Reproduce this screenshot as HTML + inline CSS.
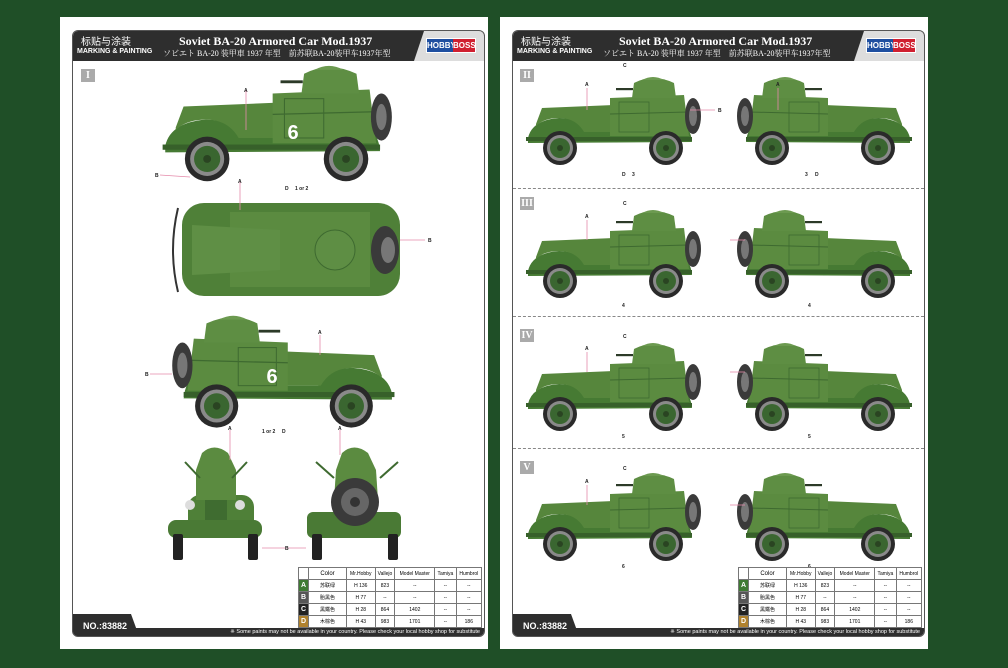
<!DOCTYPE html>
<html><head><meta charset="utf-8"><style>
*{margin:0;padding:0;box-sizing:border-box}
body{width:1008px;height:668px;background:#1f4f27;position:relative;overflow:hidden;font-family:"Liberation Sans","Noto Sans CJK SC",sans-serif}
.paper{position:absolute;top:17px;width:428px;height:632px;background:#fff}
.frame{position:absolute;left:12px;top:13px;width:413px;height:607px;border:1px solid #555;border-radius:6px;overflow:hidden}
.hdr{position:absolute;left:0;top:0;width:100%;height:30px;background:#2e2e2e}
.hdr .lg{position:absolute;right:0;top:0;width:70px;height:30px;background:#ddd;clip-path:polygon(10px 0,100% 0,100% 100%,0 100%)}
.logo{position:absolute;right:8px;top:7px;width:50px;height:15px;font:bold 8px "Liberation Sans",sans-serif;color:#fff;display:flex;border:1px solid #fff}
.logo span{display:block;line-height:13px;text-align:center}
.t1{position:absolute;left:106px;top:3px;font:bold 12px "Liberation Serif",serif;color:#fff;white-space:nowrap}
.t2{position:absolute;left:90px;top:17px;font:8px "Liberation Serif","Noto Serif CJK SC",serif;color:#fff;white-space:nowrap}
.c1{position:absolute;left:8px;top:2px;font:10px "Noto Sans CJK SC",sans-serif;color:#fff}
.c2{position:absolute;left:4px;top:17px;font:bold 7px "Liberation Sans",sans-serif;color:#fff;white-space:nowrap}
.bot{position:absolute;left:0;bottom:0;width:100%;height:8px;background:#2e2e2e}
.no{position:absolute;left:0;bottom:0;width:66px;height:22px;background:#2e2e2e;clip-path:polygon(0 0,58px 0,66px 100%,0 100%);color:#fff;font:bold 9px "Liberation Sans",sans-serif;padding:7px 0 0 10px}
.foot{position:absolute;right:4px;bottom:0;font:5.5px "Liberation Sans",sans-serif;color:#fff;white-space:nowrap;line-height:8px}
.rn{position:absolute;width:14px;height:13px;background:#aaa;color:#fff;font:bold 10px "Liberation Serif",serif;text-align:center;line-height:13px}
.dash{position:absolute;left:0;width:100%;border-top:1px dashed #888}
table{position:absolute;border-collapse:collapse;font:5px "Liberation Sans",sans-serif;background:#fff}
td{border:1px solid #777;text-align:center;height:12px;padding:0}
td.k{color:#fff;font-weight:bold;font-size:7px;width:10px}
svg.a{position:absolute;overflow:visible}
.lb{font:bold 5px "Liberation Sans",sans-serif;fill:#222}
</style></head><body>
<svg width="0" height="0" style="position:absolute">
<defs>
<g id="car">
<path d="M4 64 Q8 46 35 44 Q56 44 62 58 L120 58 Q124 44 142 44 Q162 44 167 62 L168 68 L4 69Z" fill="#467a33"/>
<path d="M12 50 L18 34 L90 31 L90 58 L60 58 Q52 44 35 44 Q20 44 12 52Z" fill="#56863c"/>
<path d="M86 24 L160 21 L165 62 L86 62Z" fill="#5b8b40"/>
<line x1="86" y1="40" x2="164" y2="38" stroke="#3e6a30" stroke-width="1"/>
<rect x="95" y="28" width="30" height="30" fill="none" stroke="#3e6a30" stroke-width="0.8"/>
<path d="M108 24 L110 9 Q129 -1 150 9 L152 24Z" fill="#5e8e43"/>
<path d="M118 6 Q129 0 140 6Z" fill="#6c9a50"/>
<rect x="92" y="14" width="17" height="2.2" fill="#2c3a28"/>
<ellipse cx="169" cy="42" rx="8" ry="18" fill="#3a3a3a"/>
<ellipse cx="169" cy="42" rx="4" ry="10" fill="#777"/>
<rect x="2" y="63" width="166" height="4" fill="#37602a"/>
<g id="wh"><circle cx="36" cy="74" r="17" fill="#2a2a2a"/><circle cx="36" cy="74" r="13" fill="#8a8a8a"/><circle cx="36" cy="74" r="10" fill="#3a6630"/><circle cx="36" cy="74" r="3" fill="#2a4422"/></g>
<use href="#wh" x="106"/>
</g>
</defs>
</svg>

<div class="paper" style="left:60px">
<div class="frame">
<div class="hdr"><div class="c1">标贴与涂装</div><div class="c2">MARKING &amp; PAINTING</div>
<div class="t1">Soviet BA-20 Armored Car Mod.1937</div>
<div class="t2">ソビエト BA-20 装甲車 1937 年型 &nbsp;&nbsp; 前苏联BA-20装甲车1937年型</div>
<div class="lg"><div class="logo"><span style="background:#1f4fa0;width:26px">HOBBY</span><span style="background:#d02030;width:22px">BOSS</span></div></div></div>
<div class="rn" style="left:8px;top:38px">I</div>
<div class="bot"></div><div class="no">NO.:83882</div>
<div class="foot">※ Some paints may not be available in your country. Please check your local hobby shop for substitute</div>
</div>
</div>

<div class="paper" style="left:500px">
<div class="frame">
<div class="hdr"><div class="c1">标贴与涂装</div><div class="c2">MARKING &amp; PAINTING</div>
<div class="t1">Soviet BA-20 Armored Car Mod.1937</div>
<div class="t2">ソビエト BA-20 装甲車 1937 年型 &nbsp;&nbsp; 前苏联BA-20装甲车1937年型</div>
<div class="lg"><div class="logo"><span style="background:#1f4fa0;width:26px">HOBBY</span><span style="background:#d02030;width:22px">BOSS</span></div></div></div>
<div class="rn" style="left:7px;top:38px">II</div>
<div class="dash" style="top:157px"></div>
<div class="rn" style="left:7px;top:166px">III</div>
<div class="dash" style="top:285px"></div>
<div class="rn" style="left:7px;top:298px">IV</div>
<div class="dash" style="top:417px"></div>
<div class="rn" style="left:7px;top:430px">V</div>
<div class="bot"></div><div class="no">NO.:83882</div>
<div class="foot">※ Some paints may not be available in your country. Please check your local hobby shop for substitute</div>
</div>
</div>

<svg class="a" style="left:0;top:0" width="1008" height="668">
<g transform="translate(160,62) scale(1.31)"><use href="#car"/></g>
<text x="293" y="139" font-family="Liberation Sans" font-weight="bold" font-size="20" fill="#fff" text-anchor="middle">6</text>
<g>
<rect x="182" y="203" width="218" height="93" rx="22" fill="#4f8038"/>
<rect x="230" y="212" width="140" height="75" fill="#5b8b40"/>
<path d="M192 225 L280 230 L280 270 L192 275Z" fill="#5f8f45"/>
<circle cx="335" cy="250" r="20" fill="#5e8e44" stroke="#3e6a30"/>
<ellipse cx="385" cy="250" rx="14" ry="24" fill="#3a3a3a"/><ellipse cx="388" cy="250" rx="7" ry="13" fill="#777"/>
<path d="M178 208 Q168 250 178 292" fill="none" stroke="#333" stroke-width="2"/>
</g>
<g transform="translate(397,312) scale(-1.27,1.27)"><use href="#car"/></g>
<text x="272" y="383" font-family="Liberation Sans" font-weight="bold" font-size="20" fill="#fff" text-anchor="middle">6</text>
<g>
<rect x="188" y="495" width="66" height="40" rx="12" fill="#4f8038"/>
<path d="M196 470 L202 453 Q214 442 228 453 L236 470 L236 500 L196 500Z" fill="#5b8b40"/>
<path d="M185 462 L200 478 M247 462 L232 478" stroke="#3e6a30" stroke-width="2"/>
<circle cx="190" cy="505" r="5" fill="#ddd"/><circle cx="240" cy="505" r="5" fill="#ddd"/>
<rect x="205" y="500" width="22" height="30" fill="#3f6c30"/>
<rect x="168" y="520" width="94" height="18" rx="8" fill="#4a7a35"/>
<rect x="173" y="534" width="10" height="26" rx="2" fill="#222"/><rect x="248" y="534" width="10" height="26" rx="2" fill="#222"/>
</g>
<g>
<path d="M336 470 L342 453 Q354 442 368 453 L376 470 L378 500 L334 500Z" fill="#5b8b40"/>
<path d="M316 462 L334 478 M398 462 L380 478" stroke="#3e6a30" stroke-width="2"/>
<rect x="307" y="512" width="94" height="26" rx="6" fill="#4a7a35"/>
<circle cx="355" cy="502" r="24" fill="#3a3a3a"/><circle cx="355" cy="502" r="14" fill="#666"/><circle cx="355" cy="502" r="5" fill="#333"/>
<rect x="312" y="534" width="10" height="26" rx="2" fill="#222"/><rect x="388" y="534" width="10" height="26" rx="2" fill="#222"/>
</g>
<g transform="translate(524,74)"><use href="#car"/></g>
<g transform="translate(914,74) scale(-1,1)"><use href="#car"/></g>
<g transform="translate(524,207)"><use href="#car"/></g>
<g transform="translate(914,207) scale(-1,1)"><use href="#car"/></g>
<g transform="translate(524,340)"><use href="#car"/></g>
<g transform="translate(914,340) scale(-1,1)"><use href="#car"/></g>
<g transform="translate(524,470)"><use href="#car"/></g>
<g transform="translate(914,470) scale(-1,1)"><use href="#car"/></g>
<g fill="none" stroke="#fff" stroke-width="1.5">
<path d="M624 147 L633 156 L624 165 L615 156Z"/><path d="M816 147 L825 156 L816 165 L807 156Z"/>
<circle cx="624" cy="287" r="6"/><circle cx="816" cy="287" r="6"/>
<circle cx="624" cy="417" r="6"/><circle cx="816" cy="417" r="6"/>
<circle cx="624" cy="548" r="6"/><circle cx="816" cy="548" r="6"/>
</g>
<g stroke="#e58aaa" stroke-width="0.8">
<line x1="246" y1="90" x2="246" y2="130"/><line x1="160" y1="175" x2="190" y2="177"/><line x1="400" y1="240" x2="425" y2="240"/>
<line x1="240" y1="182" x2="240" y2="210"/><line x1="150" y1="374" x2="172" y2="374"/><line x1="320" y1="335" x2="320" y2="355"/>
<line x1="230" y1="430" x2="230" y2="460"/><line x1="340" y1="430" x2="340" y2="455"/><line x1="262" y1="548" x2="306" y2="548"/>
<line x1="587" y1="88" x2="587" y2="110"/><line x1="690" y1="110" x2="715" y2="110"/><line x1="778" y1="88" x2="778" y2="110"/>
<line x1="587" y1="220" x2="587" y2="240"/><line x1="730" y1="240" x2="745" y2="240"/>
<line x1="587" y1="352" x2="587" y2="372"/><line x1="730" y1="372" x2="745" y2="372"/>
<line x1="587" y1="485" x2="587" y2="505"/><line x1="730" y1="505" x2="745" y2="505"/>
</g>
<g class="lb">
<text x="244" y="92">A</text><text x="155" y="177">B</text><text x="428" y="242">B</text><text x="238" y="183">A</text>
<text x="145" y="376">B</text><text x="318" y="334">A</text><text x="228" y="430">A</text><text x="338" y="430">A</text>
<text x="285" y="550">B</text><text x="285" y="190">D</text><text x="295" y="190">1 or 2</text><text x="262" y="433">1 or 2</text><text x="282" y="433">D</text>
<text x="585" y="86">A</text><text x="623" y="67">C</text><text x="718" y="112">B</text><text x="622" y="176">D</text><text x="632" y="176">3</text>
<text x="805" y="176">3</text><text x="815" y="176">D</text><text x="776" y="86">A</text>
<text x="623" y="205">C</text><text x="585" y="218">A</text><text x="622" y="307">4</text><text x="808" y="307">4</text>
<text x="623" y="338">C</text><text x="585" y="350">A</text><text x="622" y="438">5</text><text x="808" y="438">5</text>
<text x="623" y="470">C</text><text x="585" y="483">A</text><text x="622" y="568">6</text><text x="808" y="568">6</text>
</g>
</svg>

<table style="left:298px;top:567px;width:184px">
<tr><td></td><td style="width:38px;font-size:6px">Color</td><td>Mr.Hobby</td><td>Vallejo</td><td>Model Master</td><td>Tamiya</td><td>Humbrol</td></tr>
<tr><td class="k" style="background:#3f7a33">A</td><td>苏联绿</td><td>H 136</td><td>823</td><td>--</td><td>--</td><td>--</td></tr>
<tr><td class="k" style="background:#555">B</td><td>胎黑色</td><td>H 77</td><td>--</td><td>--</td><td>--</td><td>--</td></tr>
<tr><td class="k" style="background:#222">C</td><td>黑鐵色</td><td>H 28</td><td>864</td><td>1402</td><td>--</td><td>--</td></tr>
<tr><td class="k" style="background:#b0822e">D</td><td>木棕色</td><td>H 43</td><td>983</td><td>1701</td><td>--</td><td>186</td></tr>
</table>
<table style="left:738px;top:567px;width:184px">
<tr><td></td><td style="width:38px;font-size:6px">Color</td><td>Mr.Hobby</td><td>Vallejo</td><td>Model Master</td><td>Tamiya</td><td>Humbrol</td></tr>
<tr><td class="k" style="background:#3f7a33">A</td><td>苏联绿</td><td>H 136</td><td>823</td><td>--</td><td>--</td><td>--</td></tr>
<tr><td class="k" style="background:#555">B</td><td>胎黑色</td><td>H 77</td><td>--</td><td>--</td><td>--</td><td>--</td></tr>
<tr><td class="k" style="background:#222">C</td><td>黑鐵色</td><td>H 28</td><td>864</td><td>1402</td><td>--</td><td>--</td></tr>
<tr><td class="k" style="background:#b0822e">D</td><td>木棕色</td><td>H 43</td><td>983</td><td>1701</td><td>--</td><td>186</td></tr>
</table>
</body></html>
